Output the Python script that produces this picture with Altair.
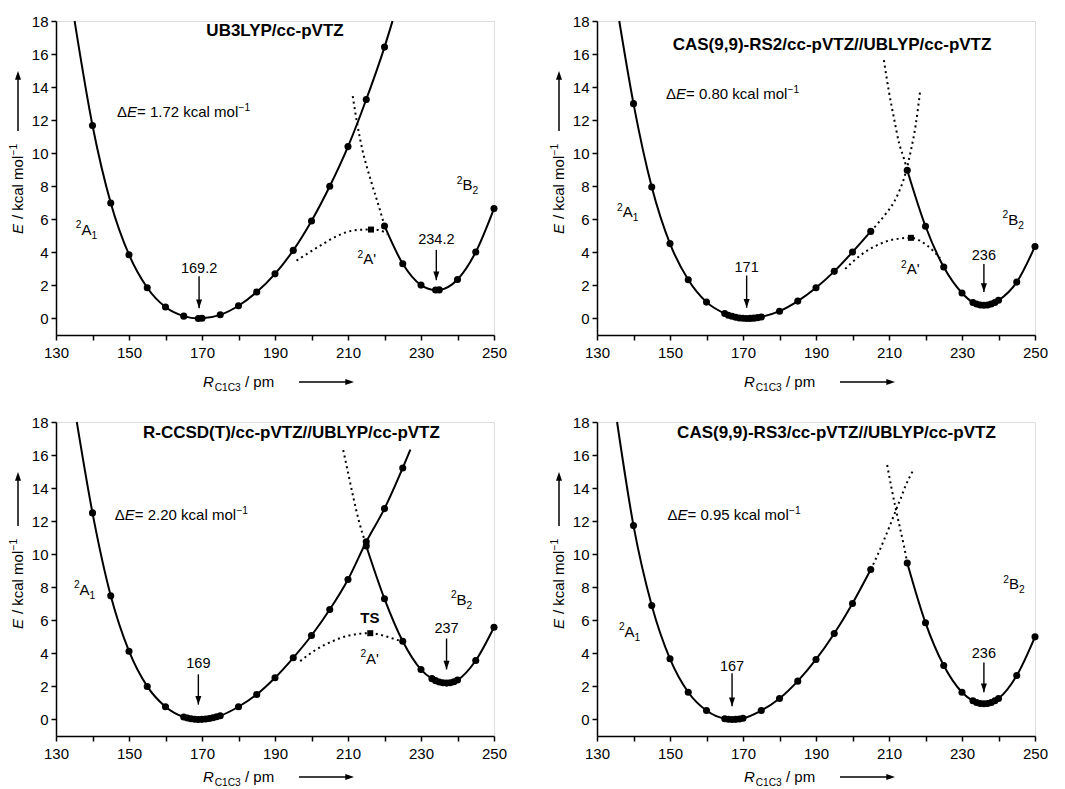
import altair as alt
import pandas as pd

FONT = "Liberation Sans"
BLACK = "#000000"

# ---------------- axis ticks ----------------
X_TICKS = list(range(130, 251, 10))
Y_TICKS = list(range(0, 19, 2))

# ---------------- Panel 1 : UB3LYP/cc-pVTZ ----------------
p1_title = "UB3LYP/cc-pVTZ"
p1_dE = "1.72"
p1_a1_r = [140, 145, 150, 155, 160, 165, 169, 170, 175, 180, 185, 190, 195, 200, 205, 210, 215, 220]
p1_a1_e = [11.68, 6.99, 3.86, 1.86, 0.69, 0.14, 0.0, 0.01, 0.22, 0.77, 1.60, 2.70, 4.12, 5.90, 8.00, 10.40, 13.25, 16.42]
p1_a1_end_r = [135.1, 222.2]
p1_a1_end_e = [18.0, 18.0]
p1_b2_r = [220, 225, 230, 234, 235, 240, 245, 250]
p1_b2_e = [5.60, 3.31, 2.02, 1.72, 1.73, 2.36, 4.02, 6.65]
p1_a1dot_r = []
p1_a1dot_e = []
p1_b2dot_r = [211.3, 212.5, 213.9, 216.4, 218.7, 220.0]
p1_b2dot_e = [13.45, 11.8, 10.25, 8.25, 6.6, 5.6]
p1_tsdot_r = [195.9, 202.5, 207.1, 211.7, 216.3, 218.8, 220.8]
p1_tsdot_e = [3.5, 4.42, 5.0, 5.33, 5.39, 5.33, 5.12]
p1_ts_r = [216.3]
p1_ts_e = [5.38]
p1_min_r = [169.2, 234.2]
p1_min_lbl = ["169.2", "234.2"]

# ---------------- Panel 2 : CAS(9,9)-RS2 ----------------
p2_title = "CAS(9,9)-RS2/cc-pVTZ//UBLYP/cc-pVTZ"
p2_dE = "0.80"
p2_a1_r = [140, 145, 150, 155, 160, 165, 166, 167, 168, 169, 170, 171, 172, 173, 174, 175,
           180, 185, 190, 195, 200, 205]
p2_a1_e = [13.0, 7.96, 4.53, 2.34, 0.99, 0.30, 0.20, 0.13, 0.07, 0.03, 0.01, 0.0, 0.005, 0.02, 0.05, 0.09,
           0.44, 1.05, 1.86, 2.85, 4.02, 5.27]
p2_a1_end_r = [136.1]
p2_a1_end_e = [18.0]
p2_b2_r = [215, 220, 225, 230, 233, 234, 235, 236, 237, 238, 239, 240, 245, 250]
p2_b2_e = [8.97, 5.58, 3.11, 1.54, 0.97, 0.88, 0.82, 0.80, 0.82, 0.88, 0.97, 1.10, 2.20, 4.36]
p2_a1dot_r = [205, 207.3, 209.5, 211.4, 212.7, 214.5, 215.9, 217.3, 218.5]
p2_a1dot_e = [5.27, 5.84, 6.44, 7.05, 7.65, 8.76, 10.07, 11.69, 13.7]
p2_b2dot_r = [208.6, 210.0, 211.4, 212.7, 214.1, 215.0]
p2_b2dot_e = [15.63, 13.7, 12.08, 10.67, 9.67, 8.97]
p2_tsdot_r = [198.0, 202.3, 206.8, 211.4, 216.0, 220.3, 224.0]
p2_tsdot_e = [3.0, 3.84, 4.44, 4.79, 4.88, 4.44, 3.65]
p2_ts_r = [216.0]
p2_ts_e = [4.88]
p2_min_r = [171, 236]
p2_min_lbl = ["171", "236"]

# ---------------- Panel 3 : R-CCSD(T) ----------------
p3_title = "R-CCSD(T)/cc-pVTZ//UBLYP/cc-pVTZ"
p3_dE = "2.20"
p3_a1_r = [140, 145, 150, 155, 160, 165, 166, 167, 168, 169, 170, 171, 172, 173, 174, 175,
           180, 185, 190, 195, 200, 205, 210, 215, 220, 225]
p3_a1_e = [12.5, 7.48, 4.13, 2.0, 0.77, 0.15, 0.085, 0.04, 0.01, 0.0, 0.006, 0.026, 0.06, 0.10, 0.16, 0.23,
           0.77, 1.51, 2.52, 3.73, 5.08, 6.65, 8.47, 10.75, 12.76, 15.22]
p3_a1_end_r = [135.7, 227.1]
p3_a1_end_e = [18.0, 16.33]
p3_b2_r = [215, 220, 225, 230, 233, 234, 235, 236, 237, 238, 239, 240, 245, 250]
p3_b2_e = [10.5, 7.3, 4.73, 3.02, 2.47, 2.35, 2.27, 2.22, 2.20, 2.22, 2.28, 2.39, 3.57, 5.58]
p3_a1dot_r = []
p3_a1dot_e = []
p3_b2dot_r = [208.7, 210.0, 211.5, 213.0, 215.0]
p3_b2dot_e = [16.3, 14.95, 13.4, 12.0, 10.55]
p3_tsdot_r = [196.9, 201.3, 205.8, 210.3, 216.1, 220.1, 223.7, 225.0]
p3_tsdot_e = [3.53, 4.23, 4.74, 5.08, 5.22, 5.05, 4.8, 4.73]
p3_ts_r = [216.1]
p3_ts_e = [5.22]
p3_min_r = [169, 237]
p3_min_lbl = ["169", "237"]

# ---------------- Panel 4 : CAS(9,9)-RS3 ----------------
p4_title = "CAS(9,9)-RS3/cc-pVTZ//UBLYP/cc-pVTZ"
p4_dE = "0.95"
p4_a1_r = [140, 145, 150, 155, 160, 165, 166, 167, 168, 169, 170, 175, 180, 185, 190, 195, 200, 205]
p4_a1_e = [11.73, 6.9, 3.67, 1.65, 0.54, 0.044, 0.011, 0.0, 0.008, 0.034, 0.076, 0.54, 1.27, 2.32, 3.63, 5.2, 7.02, 9.07]
p4_a1_end_r = [135.5]
p4_a1_end_e = [18.0]
p4_b2_r = [215, 220, 225, 230, 233, 234, 235, 236, 237, 238, 239, 240, 245, 250]
p4_b2_e = [9.47, 5.85, 3.27, 1.65, 1.13, 1.03, 0.97, 0.95, 0.97, 1.03, 1.13, 1.27, 2.66, 5.0]
p4_a1dot_r = [205, 206.5, 207.9, 209.2, 210.5, 211.9, 213.2, 214.6, 216.8]
p4_a1dot_e = [9.07, 9.77, 10.47, 11.17, 11.87, 12.67, 13.37, 14.17, 15.15]
p4_b2dot_r = [209.5, 210.6, 211.8, 213.0, 214.1, 215.0]
p4_b2dot_e = [15.4, 14.1, 12.8, 11.6, 10.5, 9.47]
p4_tsdot_r = []
p4_tsdot_e = []
p4_ts_r = []
p4_ts_e = []
p4_min_r = [167, 236]
p4_min_lbl = ["167", "236"]

# ---------------- layout (annotation placement, in data units / px) ----------------
W, H = 438, 314
LAYOUT = {
    1: dict(title=(190.0, 17.4), dE=(146.7, 12.5), a1=(135.4, 5.4), b2=(239.8, 8.08), ap=(212.6, 3.6),
            ts=None, mins=[(3.0, 2.55, 0.62), (4.75, 4.15, 2.32)], row=0),
    2: dict(title=(194.4, 16.56), dE=(148.9, 13.6), a1=(135.5, 6.44), b2=(241.1, 6.0), ap=(213.3, 3.0),
            ts=None, mins=[(3.05, 2.6, 0.65), (3.78, 3.3, 1.6)], row=0),
    3: dict(title=(194.5, 17.33), dE=(146.1, 12.4), a1=(134.9, 7.88), b2=(238.2, 7.27), ap=(213.4, 3.7),
            ts=(216.0, 6.15), mins=[(3.33, 2.73, 0.9), (5.45, 4.9, 3.03)], row=1),
    4: dict(title=(195.6, 17.33), dE=(149.3, 12.4), a1=(136.0, 5.33), b2=(241.3, 8.2), ap=None,
            ts=None, mins=[(3.15, 2.8, 0.8), (3.94, 3.45, 1.65)], row=1),
}

DOWN = "M-0.35,-1L0.35,-1L0,0Z"
UP = "M-0.35,1L0.35,1L0,0Z"
RIGHT = "M-1,-0.35L-1,0.35L0,0Z"

AW = {' ': 0.278, '(': 0.333, ')': 0.333, ',': 0.278, '-': 0.333, '.': 0.278, '/': 0.278,
      '=': 0.584, "'": 0.191, 'A': 0.667, 'B': 0.667, 'C': 0.722, 'E': 0.667, 'R': 0.722, 'Δ': 0.668,
      '−': 0.584, 'a': 0.556, 'c': 0.5, 'k': 0.5, 'l': 0.222, 'm': 0.833, 'o': 0.556, 'p': 0.556}
SPACE = 0.278


def tw(s, size):
    return sum(AW.get(ch, 0.556) for ch in s) * size


def X():
    return alt.X("r:Q", scale=alt.Scale(domain=[130, 250], nice=False, zero=False),
                 axis=alt.Axis(values=X_TICKS, labelExpr="datum.value % 20 == 10 ? datum.label : ''",
                               title=None, grid=False, tickSize=5, tickWidth=1.5, domainWidth=1.5,
                               domainColor=BLACK, tickColor=BLACK, labelColor=BLACK,
                               labelFontSize=15, labelFont=FONT, labelPadding=5, labelFlush=False))


def Y():
    return alt.Y("e:Q", scale=alt.Scale(domain=[-1, 18], nice=False, zero=False),
                 axis=alt.Axis(values=Y_TICKS, title=None, grid=False, tickSize=5, tickWidth=1.5,
                               domainWidth=1.5, domainColor=BLACK, tickColor=BLACK, labelColor=BLACK,
                               labelFontSize=15, labelFont=FONT, labelPadding=3))


def lines(segs, dotted):
    rows = []
    for k, (rs, es) in enumerate(segs):
        rows += [{"r": r, "e": e, "s": k} for r, e in zip(rs, es)]
    if dotted:
        mk = dict(interpolate="monotone", color=BLACK, strokeWidth=2, strokeDash=[2, 3.5])
    else:
        mk = dict(interpolate="monotone", color=BLACK, strokeWidth=2)
    return alt.Chart(pd.DataFrame(rows)).mark_line(**mk).encode(x=X(), y=Y(), detail="s:N")


SIZES = {"n": 1.0, "i": 1.0, "s": 0.68, "u": 0.68}
SHIFT = {"n": 0.0, "i": 0.0, "s": -0.42, "u": 0.27}


def rich(r, e, pieces, base=15):
    # pieces: (text, kind, gap-before in em)
    df = pd.DataFrame({"r": [r], "e": [e]})
    out = []
    cx = 0.0
    for t, k, gap in pieces:
        size = base * SIZES[k]
        cx += gap * base
        out.append(alt.Chart(df).mark_text(
            text=t, align="left", baseline="alphabetic", dx=cx, dy=0.36 * base + SHIFT[k] * base,
            fontSize=size, fontStyle="italic" if k == "i" else "normal",
            font=FONT, color=BLACK).encode(x=X(), y=Y()))
        cx += tw(t, size)
    return out


ONE = pd.DataFrame({"a": [0]})


def axis_titles(row):
    out = []
    base = 15
    # y title, rotated, reading upward
    cx = -38
    y = 213 if row == 0 else 207
    for t, k, gap in [("E", "i", 0), ("/ kcal mol", "n", SPACE + 0.05), ("−1", "s", 0.02)]:
        size = base * SIZES[k]
        y -= gap * base
        out.append(alt.Chart(ONE).mark_text(
            text=t, angle=270, align="left", baseline="alphabetic", fontSize=size,
            fontStyle="italic" if k == "i" else "normal", font=FONT, color=BLACK).encode(
            x=alt.value(cx + 0.36 * base + SHIFT[k] * base), y=alt.value(y)))
        y -= tw(t, size)
    ytop = 50
    ybot = 110 if row == 0 else 104
    out.append(alt.Chart(ONE).mark_rule(color=BLACK, strokeWidth=1.5).encode(
        x=alt.value(cx), y=alt.value(ybot), y2=alt.value(ytop + 6)))
    out.append(alt.Chart(ONE).mark_point(shape=UP, size=300, filled=True, opacity=1, color=BLACK,
                                          strokeWidth=0).encode(x=alt.value(cx), y=alt.value(ytop)))
    # x title
    xb = 366 if row == 0 else 360
    x = 147
    for t, k, gap in [("R", "i", 0), ("C1C3", "u", 0.06), ("/ pm", "n", SPACE)]:
        size = base * SIZES[k]
        x += gap * base
        out.append(alt.Chart(ONE).mark_text(
            text=t, align="left", baseline="alphabetic", fontSize=size,
            fontStyle="italic" if k == "i" else "normal", font=FONT, color=BLACK).encode(
            x=alt.value(x), y=alt.value(xb + SHIFT[k] * base)))
        x += tw(t, size)
    ya = xb - 5
    out.append(alt.Chart(ONE).mark_rule(color=BLACK, strokeWidth=1.5).encode(
        x=alt.value(243), x2=alt.value(292), y=alt.value(ya)))
    out.append(alt.Chart(ONE).mark_point(shape=RIGHT, size=300, filled=True, opacity=1, color=BLACK,
                                          strokeWidth=0).encode(x=alt.value(298), y=alt.value(ya)))
    return out


def panel(n, title, dE, a1_r, a1_e, a1_end_r, a1_end_e, b2_r, b2_e, a1dot_r, a1dot_e,
          b2dot_r, b2dot_e, tsdot_r, tsdot_e, ts_r, ts_e, min_r, min_lbl):
    L = LAYOUT[n]
    layers = []
    layers.append(lines([(a1_end_r + a1_r, a1_end_e + a1_e), (b2_r, b2_e)], dotted=False))
    dsegs = [(rr, ee) for rr, ee in [(a1dot_r, a1dot_e), (b2dot_r, b2dot_e), (tsdot_r, tsdot_e)] if rr]
    layers.append(lines(dsegs, dotted=True))
    pts = pd.DataFrame({"r": a1_r + b2_r, "e": a1_e + b2_e})
    layers.append(alt.Chart(pts).mark_circle(size=50, color=BLACK, opacity=1).encode(x=X(), y=Y()))
    if ts_r:
        layers.append(alt.Chart(pd.DataFrame({"r": ts_r, "e": ts_e})).mark_square(
            size=36, color=BLACK, opacity=1).encode(x=X(), y=Y()))
    # minima arrows + labels
    lab = pd.DataFrame({"r": min_r, "e": [m[0] for m in L["mins"]], "t": min_lbl})
    arr = pd.DataFrame({"r": min_r, "e": [m[1] for m in L["mins"]], "e2": [m[2] for m in L["mins"]]})
    tips = pd.DataFrame({"r": min_r, "e": [m[2] for m in L["mins"]]})
    layers.append(alt.Chart(lab).mark_text(fontSize=14.5, font=FONT, color=BLACK, align="center",
                                           baseline="middle").encode(x=X(), y=Y(), text="t:N"))
    layers.append(alt.Chart(arr).mark_rule(color=BLACK, strokeWidth=1.4).encode(
        x=X(), y=Y(), y2=alt.Y2("e2:Q")))
    layers.append(alt.Chart(tips).mark_point(shape=DOWN, size=300, filled=True, opacity=1, color=BLACK,
                                             strokeWidth=0).encode(x=X(), y=Y()))
    # title
    layers.append(alt.Chart(pd.DataFrame({"r": [L["title"][0]], "e": [L["title"][1]], "t": [title]}))
                  .mark_text(fontSize=17, fontWeight="bold", font=FONT, color=BLACK, align="center",
                             baseline="middle").encode(x=X(), y=Y(), text="t:N"))
    # labels
    layers += rich(*L["dE"], [("Δ", "n", 0), ("E", "i", 0), ("= " + dE + " kcal mol", "n", 0),
                              ("−1", "s", 0.02)])
    layers += rich(*L["a1"], [("2", "s", 0), ("A", "n", 0), ("1", "u", 0)])
    layers += rich(*L["b2"], [("2", "s", 0), ("B", "n", 0), ("2", "u", 0)])
    if L["ap"]:
        layers += rich(*L["ap"], [("2", "s", 0), ("A'", "n", 0)])
    if L["ts"]:
        layers.append(alt.Chart(pd.DataFrame({"r": [L["ts"][0]], "e": [L["ts"][1]], "t": ["TS"]}))
                      .mark_text(fontSize=15, fontWeight="bold", font=FONT, color=BLACK, align="center",
                                 baseline="middle").encode(x=X(), y=Y(), text="t:N"))
    layers += axis_titles(L["row"])
    return alt.layer(*layers).properties(width=W, height=H)


c1 = panel(1, p1_title, p1_dE, p1_a1_r, p1_a1_e, p1_a1_end_r, p1_a1_end_e, p1_b2_r, p1_b2_e,
           p1_a1dot_r, p1_a1dot_e, p1_b2dot_r, p1_b2dot_e, p1_tsdot_r, p1_tsdot_e, p1_ts_r, p1_ts_e,
           p1_min_r, p1_min_lbl)
c2 = panel(2, p2_title, p2_dE, p2_a1_r, p2_a1_e, p2_a1_end_r, p2_a1_end_e, p2_b2_r, p2_b2_e,
           p2_a1dot_r, p2_a1dot_e, p2_b2dot_r, p2_b2dot_e, p2_tsdot_r, p2_tsdot_e, p2_ts_r, p2_ts_e,
           p2_min_r, p2_min_lbl)
c3 = panel(3, p3_title, p3_dE, p3_a1_r, p3_a1_e, p3_a1_end_r, p3_a1_end_e, p3_b2_r, p3_b2_e,
           p3_a1dot_r, p3_a1dot_e, p3_b2dot_r, p3_b2dot_e, p3_tsdot_r, p3_tsdot_e, p3_ts_r, p3_ts_e,
           p3_min_r, p3_min_lbl)
c4 = panel(4, p4_title, p4_dE, p4_a1_r, p4_a1_e, p4_a1_end_r, p4_a1_end_e, p4_b2_r, p4_b2_e,
           p4_a1dot_r, p4_a1dot_e, p4_b2dot_r, p4_b2dot_e, p4_tsdot_r, p4_tsdot_e, p4_ts_r, p4_ts_e,
           p4_min_r, p4_min_lbl)

chart = alt.concat(c1, c2, c3, c4, columns=2, spacing={"row": 87, "column": 103}, bounds="flush").properties(
    padding={"left": 0, "top": 5, "right": 5, "bottom": 0}
).configure_view(stroke=None).configure(font=FONT, background="white")

chart.save("out.html", embed_options={"renderer": "svg", "actions": False})
